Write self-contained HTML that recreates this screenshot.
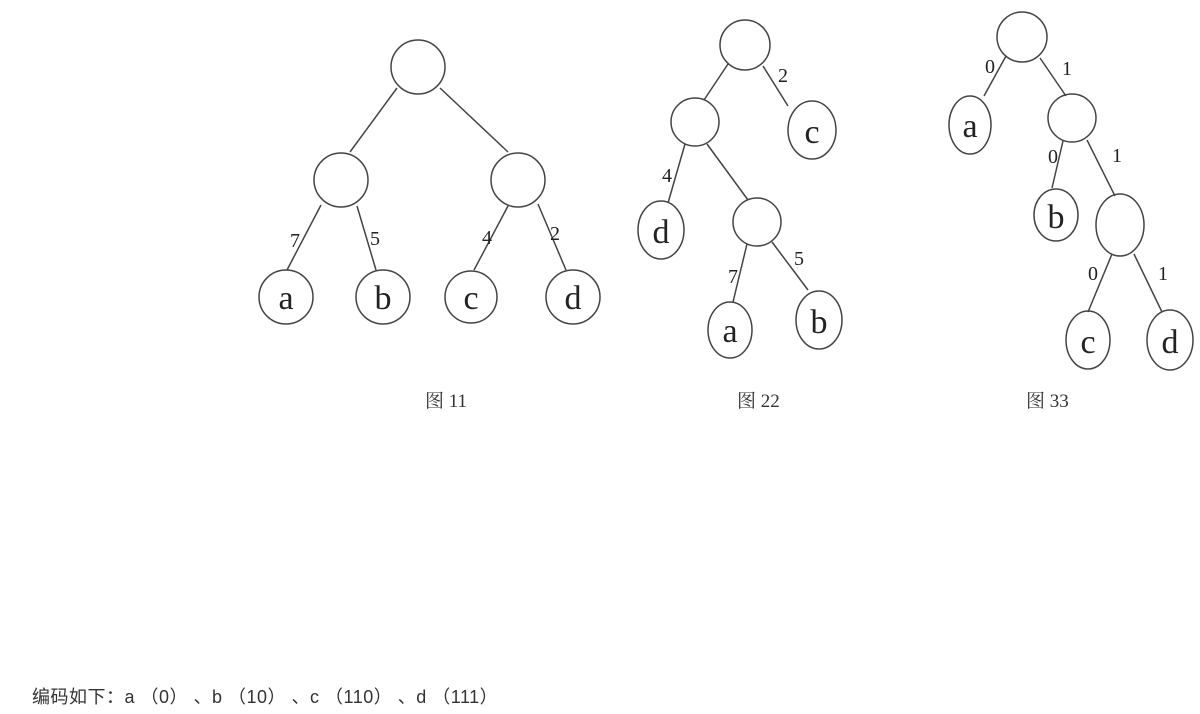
<!DOCTYPE html>
<html><head><meta charset="utf-8"><style>
html,body{margin:0;padding:0;background:#fff;width:1200px;height:714px;overflow:hidden}
svg{position:absolute;left:0;top:0}
.t{font-family:"Liberation Serif",serif;fill:#222}
.cap{position:absolute;top:386px;font-family:"Liberation Serif","Noto Serif CJK SC",serif;font-size:19px;color:#333}
.foot{position:absolute;left:32px;top:683px;font-family:"Liberation Sans","Noto Sans CJK SC",sans-serif;font-size:18px;color:#333;white-space:pre;letter-spacing:0.5px}
</style></head><body>
<svg width="1200" height="714" viewBox="0 0 1200 714">
<g stroke="#444" stroke-width="1.5" fill="none">
<line x1="397" y1="88" x2="350" y2="152"/><line x1="440" y1="88" x2="508" y2="152"/>
<line x1="321" y1="205" x2="287" y2="270"/><line x1="357" y1="206" x2="376" y2="270"/>
<line x1="508" y1="206" x2="474" y2="270"/><line x1="538" y1="204" x2="566" y2="270"/>
<circle cx="418" cy="67" r="27"/><circle cx="341" cy="180" r="27"/><circle cx="518" cy="180" r="27"/>
<circle cx="286" cy="297" r="27"/><circle cx="383" cy="297" r="27"/><circle cx="471" cy="297" r="26"/><circle cx="573" cy="297" r="27"/>
<line x1="728" y1="64" x2="704" y2="100"/><line x1="763" y1="66" x2="788" y2="106"/>
<line x1="685" y1="144" x2="668" y2="203"/><line x1="707" y1="144" x2="748" y2="200"/>
<line x1="747" y1="244" x2="733" y2="302"/><line x1="772" y1="242" x2="808" y2="290"/>
<circle cx="745" cy="45" r="25"/><ellipse cx="812" cy="130" rx="24" ry="29"/><circle cx="695" cy="122" r="24"/>
<ellipse cx="661" cy="230" rx="23" ry="29"/><circle cx="757" cy="222" r="24"/>
<ellipse cx="730" cy="330" rx="22" ry="28"/><ellipse cx="819" cy="320" rx="23" ry="29"/>
<line x1="1006" y1="56" x2="984" y2="96"/><line x1="1040" y1="58" x2="1066" y2="96"/>
<line x1="1063" y1="141" x2="1052" y2="188"/><line x1="1087" y1="140" x2="1115" y2="196"/>
<line x1="1112" y1="254" x2="1088" y2="312"/><line x1="1134" y1="254" x2="1162" y2="312"/>
<circle cx="1022" cy="37" r="25"/><ellipse cx="970" cy="125" rx="21" ry="29"/><circle cx="1072" cy="118" r="24"/>
<ellipse cx="1056" cy="215" rx="22" ry="26"/><ellipse cx="1120" cy="225" rx="24" ry="31"/>
<ellipse cx="1088" cy="340" rx="22" ry="29"/><ellipse cx="1170" cy="340" rx="23" ry="30"/>
</g>
<g class="t" text-anchor="middle">
<text x="286" y="309" font-size="34">a</text><text x="383" y="309" font-size="34">b</text><text x="471" y="309" font-size="34">c</text><text x="573" y="309" font-size="34">d</text>
<text x="295" y="247" font-size="20">7</text><text x="375" y="245" font-size="20">5</text><text x="487" y="244" font-size="20">4</text><text x="555" y="240" font-size="20">2</text>
<text x="812" y="143" font-size="34">c</text><text x="661" y="243" font-size="34">d</text><text x="730" y="342" font-size="34">a</text><text x="819" y="333" font-size="34">b</text>
<text x="783" y="82" font-size="20">2</text><text x="667" y="182" font-size="20">4</text><text x="733" y="283" font-size="20">7</text><text x="799" y="265" font-size="20">5</text>
<text x="970" y="137" font-size="34">a</text><text x="1056" y="228" font-size="34">b</text><text x="1088" y="353" font-size="34">c</text><text x="1170" y="353" font-size="34">d</text>
<text x="990" y="73" font-size="20">0</text><text x="1067" y="75" font-size="20">1</text><text x="1053" y="163" font-size="20">0</text><text x="1117" y="162" font-size="20">1</text><text x="1093" y="280" font-size="20">0</text><text x="1163" y="280" font-size="20">1</text>
</g>
</svg>
<div class="cap" style="left:425px">图 11</div>
<div class="cap" style="left:737px">图 22</div>
<div class="cap" style="left:1026px">图 33</div>
<div class="foot">编码如下：a （0） 、b （10） 、c （110） 、d （111）</div>
</body></html>
